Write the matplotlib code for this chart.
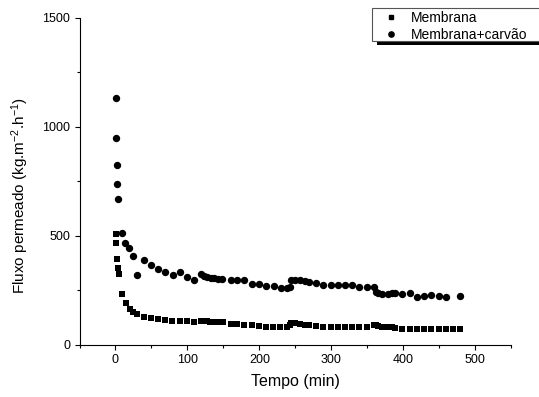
import matplotlib as mpl
mpl.use('Agg')
import matplotlib.pyplot as plt
from matplotlib.patches import Rectangle
from matplotlib.lines import Line2D
from matplotlib.ticker import MultipleLocator

plt.rcParams['font.family'] = ['Liberation Sans', 'DejaVu Sans']
plt.rcParams['mathtext.fontset'] = 'custom'
plt.rcParams['mathtext.rm'] = 'Liberation Sans'
plt.rcParams['mathtext.it'] = 'Liberation Sans'
plt.rcParams['mathtext.default'] = 'regular'

# Membrana (squares)
t_membrana = [0.4, 1.4, 2.3, 3.2, 4.6, 9.7, 14.8, 19.9, 24.5, 29.6, 39.3, 49, 59.6, 69, 79, 89,
              99, 109, 119, 122, 127, 132, 137, 142, 150, 160, 169, 179, 189, 199, 209, 219,
              229, 239, 242, 244, 249, 256, 263, 269, 279, 289, 299, 309, 319, 329, 339, 349,
              358.7, 361.5, 364.7, 370.8, 378.5, 384.6, 389, 398.4, 408.6, 418.8, 428.5, 438.7,
              448.9, 459, 469, 479]
f_membrana = [508, 466, 394, 355, 326, 232, 191, 167, 150, 141, 130, 125, 119, 115, 112, 112,
              112, 104, 110, 110, 108, 106, 106, 106, 105, 98, 95, 93, 91, 87, 84, 84,
              81, 81, 92, 102, 99, 96, 93, 90, 87, 84, 83, 83, 83, 83, 83, 81,
              92, 93, 89, 84, 83, 81, 80, 75, 73, 73, 73, 73,
              73, 73, 73, 73]

# Membrana+carvão (circles)
t_carvao = [0.4, 1.0, 1.8, 2.6, 3.5, 9.4, 13.9, 18.9, 24.4, 29.6, 39.3, 49, 59.6, 69.3, 79.4,
            89.2, 99.4, 109, 119.4, 122.6, 127.1, 132.4, 137.4, 142, 148.6, 160, 169, 179,
            189.5, 199.6, 209, 219.9, 229.6, 238.9, 242, 243.8, 249, 256, 263, 269, 279, 289,
            299, 309, 319, 329, 339, 349.4, 358.7, 361.5, 364.7, 370.8, 378.5, 384.6, 389,
            398.4, 408.6, 418.8, 428.5, 438.7, 448.9, 459, 479]
f_carvao = [1132, 951, 826, 737, 668, 515, 466, 446, 408, 323, 388, 365, 347, 335, 321,
            335, 310, 297, 327, 318, 310, 307, 306, 305, 305, 299, 298, 298,
            279, 279, 272, 269, 261, 261, 265, 298, 297, 298, 292, 290, 286, 277,
            277, 276, 276, 277, 267, 266, 264, 245, 237, 234, 234, 237, 240,
            234, 237, 222, 225, 229, 225, 222, 225]

x_ticks = [0, 100, 200, 300, 400, 500]
y_ticks = [0, 500, 1000, 1500]
legend_labels = ['Membrana', 'Membrana+carvão']

fig = plt.figure(figsize=(5.39, 3.97), dpi=100)
ax = fig.add_axes([0.1475, 0.131, 0.8011, 0.8237])

ax.plot(t_membrana, f_membrana, linestyle='none', marker='s', markersize=4.2,
        color='black', markeredgewidth=0)
ax.plot(t_carvao, f_carvao, linestyle='none', marker='o', markersize=5.3,
        color='black', markeredgewidth=0)

ax.set_xlim(-50, 550)
ax.set_ylim(0, 1500)
ax.set_xticks(x_ticks)
ax.set_yticks(y_ticks)
ax.xaxis.set_minor_locator(MultipleLocator(50))
ax.yaxis.set_minor_locator(MultipleLocator(250))
ax.tick_params(which='major', direction='out', length=3.6, width=0.8, labelsize=9, pad=3)
ax.tick_params(which='minor', direction='out', length=2.2, width=0.8)
for s in ['top', 'right']:
    ax.spines[s].set_visible(False)
for s in ['left', 'bottom']:
    ax.spines[s].set_linewidth(0.8)

ax.set_xlabel('Tempo (min)', fontsize=11.5, labelpad=6)
ax.set_ylabel('Fluxo permeado (kg.m$^{-2}$.h$^{-1}$)', fontsize=11)
ax.yaxis.set_label_coords(-0.112, 0.456)

# legend box with a black shadow, as in the original
W, H = 539, 397
fig.patches.append(Rectangle((377 / W, 1 - 45 / H), (W - 377) / W, 5 / H,
                             transform=fig.transFigure, facecolor='black', edgecolor='none'))
fig.patches.append(Rectangle((372 / W, 1 - 41 / H), (W - 371) / W, 33 / H,
                             transform=fig.transFigure, facecolor='white', edgecolor='#555555',
                             linewidth=0.8))
handles = [Line2D([], [], linestyle='none', marker='s', markersize=3.5, color='black'),
           Line2D([], [], linestyle='none', marker='o', markersize=3.8, color='black')]
fig.legend(handles, legend_labels, loc='upper left', bbox_to_anchor=(373 / W, 1 - 1 / H),
           frameon=False, fontsize=10, handlelength=1.2, handletextpad=0.85,
           labelspacing=0.25, borderpad=0.2)

fig.savefig('out.png', dpi=100)
